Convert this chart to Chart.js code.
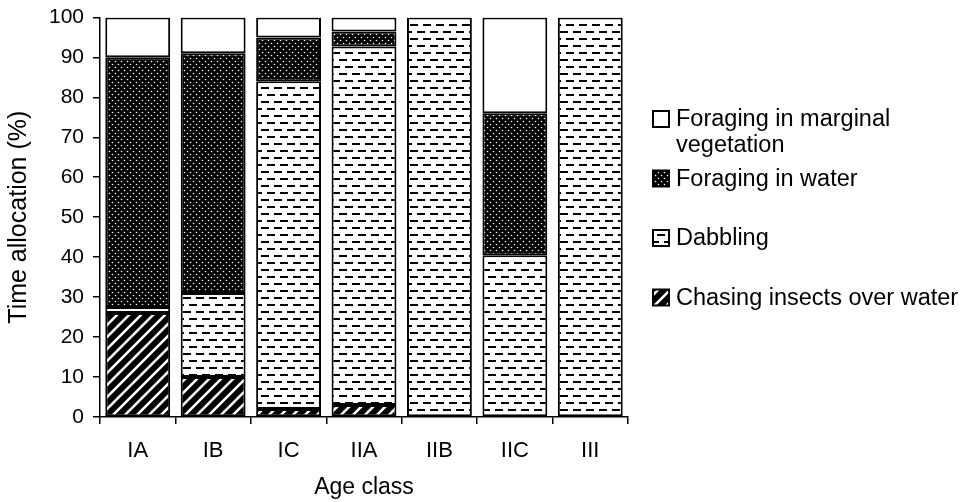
<!DOCTYPE html>
<html>
<head>
<meta charset="utf-8">
<script src="https://cdn.jsdelivr.net/npm/chart.js@4"></script>
<style>
  html, body { margin: 0; padding: 0; background: #fff; }
  #wrap { width: 964px; height: 502px; }
</style>
</head>
<body>
<div id="wrap"><canvas id="chart" width="964" height="502"></canvas></div>
<script>
// Data
const ageClasses = ['IA', 'IB', 'IC', 'IIA', 'IIB', 'IIC', 'III'];
const chasingInsects = [26, 10, 2, 3, 0, 0, 0];
const dabbling = [1.5, 21, 82, 89.7, 100, 40.5, 100];
const foragingWater = [62.5, 60, 11, 3.8, 0, 35.5, 0];
const foragingMarginal = [10, 9, 5, 3.5, 0, 24, 0];
const yTicks = [0, 10, 20, 30, 40, 50, 60, 70, 80, 90, 100];

const FONT = "'Liberation Sans', Arial, Helvetica, sans-serif";

// Hatch patterns like the printed figure
function makePattern(w, h, draw) {
    const c = document.createElement('canvas');
    c.width = w;
    c.height = h;
    draw(c.getContext('2d'));
    return c.getContext('2d').createPattern(c, 'repeat');
}

const dotsPattern = makePattern(6, 6, (g) => {
    g.fillStyle = '#000';
    g.fillRect(0, 0, 6, 6);
    g.fillStyle = '#fff';
    g.beginPath();
    g.arc(1.5, 1.5, 0.8, 0, Math.PI * 2);
    g.arc(4.5, 4.5, 0.8, 0, Math.PI * 2);
    g.fill();
});

const dashPattern = makePattern(26, 14, (g) => {
    g.fillStyle = '#fff';
    g.fillRect(0, 0, 26, 14);
    g.fillStyle = '#000';
    g.fillRect(1, 3, 8, 2);
    g.fillRect(14, 3, 8, 2);
    g.fillRect(7, 10, 8, 2);
    g.fillRect(20, 10, 6, 2);
    g.fillRect(0, 10, 2, 2);
});

const stripePattern = makePattern(12, 12, (g) => {
    g.fillStyle = '#000';
    g.fillRect(0, 0, 12, 12);
    g.strokeStyle = '#fff';
    g.lineWidth = 2.6;
    g.beginPath();
    g.moveTo(-6, 6); g.lineTo(6, -6);
    g.moveTo(-6, 18); g.lineTo(18, -6);
    g.moveTo(6, 18); g.lineTo(18, 6);
    g.stroke();
});

const legendItems = [
    { lines: ['Foraging in marginal', 'vegetation'], ds: 3 },
    { lines: ['Foraging in water'], ds: 2 },
    { lines: ['Dabbling'], ds: 1 },
    { lines: ['Chasing insects over water'], ds: 0 }
];

// Legend drawn by hand so the first entry can wrap onto two lines
const sideLegend = {
    id: 'sideLegend',
    afterDraw(chart) {
        const g = chart.ctx;
        const area = chart.chartArea;
        const x0 = area.right + 25;
        const box = 16;
        g.save();
        g.font = '23.5px ' + FONT;
        g.textBaseline = 'middle';
        legendItems.forEach((item, i) => {
            const cy = 119 + i * 59.5;
            const ds = chart.data.datasets[item.ds];
            g.fillStyle = ds.backgroundColor;
            g.fillRect(x0, cy - box / 2, box, box);
            g.strokeStyle = '#000';
            g.lineWidth = 2;
            g.strokeRect(x0, cy - box / 2, box, box);
            g.fillStyle = '#000';
            item.lines.forEach((t, j) => {
                g.fillText(t, x0 + 23, cy + 1 + j * 26);
            });
        });
        g.restore();
    }
};

// zero-height segments are left out so no stray border lines get drawn
const shown = (arr) => arr.map(v => (v === 0 ? null : v));

const common = {
    borderColor: '#000',
    borderWidth: 2,
    borderSkipped: false,
    barPercentage: 0.86,
    categoryPercentage: 1
};

const ctx = document.getElementById('chart').getContext('2d');
new Chart(ctx, {
    type: 'bar',
    data: {
        labels: ageClasses,
        datasets: [
            Object.assign({ label: 'Chasing insects over water', data: shown(chasingInsects), backgroundColor: stripePattern }, common),
            Object.assign({ label: 'Dabbling', data: shown(dabbling), backgroundColor: dashPattern }, common),
            Object.assign({ label: 'Foraging in water', data: shown(foragingWater), backgroundColor: dotsPattern }, common),
            Object.assign({ label: 'Foraging in marginal vegetation', data: shown(foragingMarginal), backgroundColor: '#fff' }, common)
        ]
    },
    options: {
        responsive: false,
        animation: false,
        layout: {
            padding: { top: 11, right: 336, left: 0, bottom: 0 }
        },
        plugins: {
            legend: { display: false },
            tooltip: { enabled: false }
        },
        scales: {
            x: {
                stacked: true,
                offset: true,
                grid: {
                    offset: true,
                    drawOnChartArea: false,
                    drawTicks: true,
                    tickLength: 7,
                    color: '#000',
                    lineWidth: 1.5
                },
                border: { color: '#000', width: 1.5 },
                ticks: {
                    color: '#000',
                    font: { family: FONT, size: 22 },
                    padding: 14
                },
                title: {
                    display: true,
                    text: 'Age class',
                    color: '#000',
                    font: { family: FONT, size: 23 },
                    padding: { top: 0, bottom: 1 }
                },
                afterFit(scale) { scale.height = 85; }
            },
            y: {
                stacked: true,
                min: 0,
                max: 100,
                afterBuildTicks(scale) {
                    scale.ticks = yTicks.map(v => ({ value: v }));
                },
                grid: {
                    drawOnChartArea: false,
                    drawTicks: true,
                    tickLength: 7,
                    color: '#000',
                    lineWidth: 1.5
                },
                border: { color: '#000', width: 1.5 },
                ticks: {
                    color: '#000',
                    font: { family: FONT, size: 21, lineHeight: 0.8 },
                    padding: 9
                },
                title: {
                    display: true,
                    text: 'Time allocation (%)',
                    color: '#000',
                    font: { family: FONT, size: 25 },
                    padding: { top: 4, bottom: 0 }
                },
                afterFit(scale) { scale.width = 100; }
            }
        }
    },
    plugins: [sideLegend]
});
</script>
</body>
</html>
